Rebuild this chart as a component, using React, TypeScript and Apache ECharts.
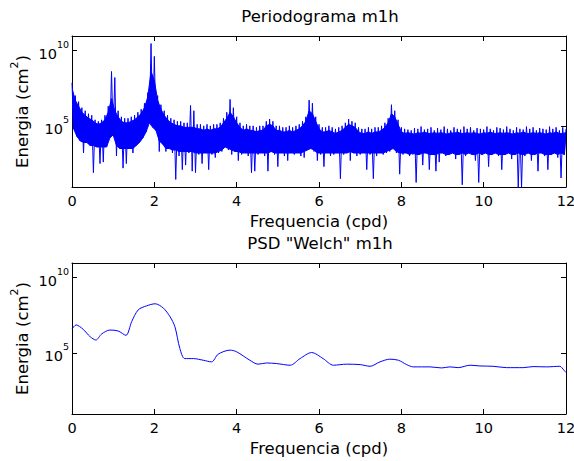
import React, { useEffect, useRef } from 'react';
import * as echarts from 'echarts';

// ---------- data (log10 of energy in cm^2) ----------
// Periodogram: upper extremes (spike tips) sampled every 0.08 cpd from 0 to 12
const periodogramUpperLog10 = [
  7.85, 7.0, 6.6, 6.2, 6.0, 5.8, 5.7, 5.4, 5.3, 5.4,
  5.7, 6.3, 8.6, 8.2, 6.0, 5.6, 5.5, 5.5, 5.6, 5.7,
  5.9, 6.1, 6.5, 7.2, 10.45, 9.6, 7.0, 6.4, 6.0, 5.7,
  5.5, 5.4, 5.3, 5.3, 5.2, 5.2, 6.35, 6.0, 5.1, 5.1,
  5.0, 5.1, 5.0, 5.1, 5.1, 5.2, 5.5, 5.9, 6.75, 6.2,
  5.6, 5.2, 5.0, 5.1, 5.0, 5.0, 4.9, 5.0, 5.0, 5.3,
  5.45, 5.3, 5.0, 5.0, 4.9, 4.9, 5.0, 4.9, 5.0, 5.1,
  5.3, 5.6, 6.7, 6.5, 5.6, 5.1, 4.9, 4.9, 5.0, 4.9,
  4.8, 4.9, 5.0, 5.2, 5.45, 5.3, 5.2, 4.9, 4.8, 4.8,
  4.9, 4.8, 4.9, 4.9, 5.0, 5.2, 5.5, 6.4, 6.0, 5.4,
  4.9, 4.8, 4.75, 4.7, 4.85, 4.8, 4.95, 4.75, 4.8, 4.9,
  4.7, 4.85, 4.75, 4.95, 4.8, 4.7, 4.9, 4.8, 4.75, 4.95,
  4.8, 4.9, 4.7, 4.85, 4.8, 4.75, 4.95, 4.8, 4.7, 4.9,
  4.85, 4.75, 4.95, 4.8, 4.7, 4.9, 4.8, 4.75, 4.95, 4.8,
  4.9, 4.7, 4.85, 4.8, 4.75, 4.95, 4.8, 4.9, 4.7, 4.9,
  4.8,
];
// Periodogram: top edge of the solid (dense) band, at the same frequencies as the upper extremes
const periodogramBandTopLog10 = [
  7.5, 6.7, 6.3, 5.9, 5.7, 5.5, 5.4, 5.2, 5.1, 5.2,
  5.4, 5.9, 6.8, 6.0, 5.6, 5.3, 5.2, 5.2, 5.3, 5.4,
  5.6, 5.8, 6.2, 6.9, 8.6, 8.0, 6.7, 6.1, 5.7, 5.4,
  5.2, 5.1, 5.0, 5.0, 4.9, 4.9, 4.9, 4.9, 4.8, 4.8,
  4.7, 4.8, 4.7, 4.8, 4.8, 4.9, 5.2, 5.5, 5.9, 5.6,
  5.2, 4.9, 4.7, 4.8, 4.7, 4.7, 4.6, 4.7, 4.7, 5.0,
  5.1, 5.0, 4.7, 4.7, 4.6, 4.6, 4.7, 4.6, 4.7, 4.8,
  5.0, 5.3, 6.0, 5.8, 5.3, 4.8, 4.6, 4.6, 4.7, 4.6,
  4.5, 4.6, 4.7, 4.9, 5.1, 5.0, 4.9, 4.6, 4.5, 4.5,
  4.6, 4.5, 4.6, 4.6, 4.7, 4.9, 5.2, 5.8, 5.6, 5.1,
  4.6, 4.5, 4.55, 4.5, 4.45, 4.55, 4.5, 4.6, 4.5, 4.5,
  4.55, 4.5, 4.55, 4.5, 4.45, 4.55, 4.5, 4.6, 4.5, 4.5,
  4.55, 4.5, 4.55, 4.5, 4.45, 4.55, 4.5, 4.6, 4.5, 4.5,
  4.55, 4.5, 4.55, 4.5, 4.45, 4.55, 4.5, 4.6, 4.5, 4.5,
  4.55, 4.5, 4.55, 4.5, 4.45, 4.55, 4.5, 4.6, 4.5, 4.5,
  4.55,
];
// Periodogram: lower extremes (including the thin downward spikes), every 0.08 cpd from 0.04
const periodogramLowerLog10 = [
  4.8, 4.3, 4.0, 3.2, 3.9, 3.7, 1.9, 3.6, 2.5, 2.6,
  3.6, 4.2, 4.4, 3.0, 3.5, 2.2, 2.5, 3.5, 3.2, 3.7,
  3.9, 4.2, 4.6, 5.2, 4.9, 4.7, 3.3, 3.8, 3.3, 3.5,
  3.2, 1.45, 3.0, 2.1, 2.4, 3.2, 2.0, 1.9, 3.1, 2.5,
  3.2, 2.1, 3.1, 2.9, 3.2, 3.3, 3.6, 3.4, 3.1, 3.3,
  2.7, 3.1, 3.2, 3.0, 1.9, 2.0, 3.1, 3.2, 3.0, 2.0,
  3.3, 3.1, 2.3, 3.2, 3.0, 2.7, 3.2, 3.1, 3.2, 3.0,
  2.9, 3.4, 3.5, 3.3, 2.7, 3.1, 2.3, 3.2, 3.0, 3.1,
  3.2, 1.5, 3.1, 3.2, 2.7, 3.2, 3.0, 3.1, 3.2, 2.1,
  3.1, 1.5, 3.0, 3.2, 3.1, 3.2, 3.3, 3.5, 3.2, 1.8,
  3.1, 3.2, 3.0, 3.1, 1.25, 3.1, 2.4, 3.2, 2.1, 3.1,
  2.0, 2.6, 3.2, 3.0, 3.1, 3.2, 2.8, 3.1, 1.1, 3.0,
  3.2, 3.1, 2.7, 1.25, 3.1, 3.2, 2.3, 3.1, 3.2, 3.0,
  2.1, 3.1, 3.2, 2.8, 3.1, 0.9, 0.9, 3.0, 3.2, 2.7,
  3.1, 2.0, 3.2, 3.0, 2.1, 3.1, 3.2, 2.9, 1.55, 3.1,
];
// Periodogram: bottom edge of the solid (dense) band, at the same frequencies as the lower extremes
const periodogramBandFloorLog10 = [
  4.8, 4.3, 4.0, 3.9, 3.9, 3.7, 3.7, 3.6, 3.6, 3.6,
  3.6, 4.2, 4.4, 3.7, 3.5, 3.5, 3.5, 3.5, 3.5, 3.7,
  3.9, 4.2, 4.6, 5.2, 4.9, 4.7, 4.0, 3.8, 3.5, 3.5,
  3.4, 3.4, 3.3, 3.3, 3.3, 3.3, 3.3, 3.2, 3.2, 3.2,
  3.2, 3.2, 3.2, 3.2, 3.3, 3.4, 3.6, 3.5, 3.4, 3.3,
  3.3, 3.2, 3.2, 3.2, 3.2, 3.2, 3.2, 3.2, 3.2, 3.2,
  3.3, 3.2, 3.2, 3.2, 3.2, 3.2, 3.2, 3.2, 3.2, 3.2,
  3.3, 3.4, 3.5, 3.4, 3.2, 3.2, 3.2, 3.2, 3.2, 3.2,
  3.2, 3.2, 3.2, 3.2, 3.3, 3.2, 3.2, 3.2, 3.2, 3.2,
  3.2, 3.2, 3.2, 3.2, 3.2, 3.3, 3.4, 3.5, 3.3, 3.2,
  3.2, 3.2, 3.1, 3.2, 3.1, 3.1, 3.2, 3.2, 3.1, 3.1,
  3.1, 3.2, 3.2, 3.1, 3.1, 3.2, 3.1, 3.1, 3.2, 3.1,
  3.2, 3.1, 3.1, 3.2, 3.1, 3.2, 3.1, 3.1, 3.2, 3.1,
  3.1, 3.1, 3.2, 3.1, 3.1, 3.2, 3.1, 3.1, 3.2, 3.1,
  3.1, 3.2, 3.2, 3.1, 3.1, 3.1, 3.2, 3.1, 3.2, 3.1,
];
const PERIODOGRAM_STEP = 0.08;

// Welch PSD
const welchFreq = [
  0, 0.1, 0.27, 0.44, 0.58, 0.72, 0.92, 1.12, 1.31, 1.45,
  1.61, 1.81, 2.02, 2.22, 2.38, 2.5, 2.62, 2.74, 2.95, 3.19,
  3.39, 3.55, 3.84, 4.0, 4.32, 4.52, 4.73, 4.97, 5.3, 5.54,
  5.82, 6.1, 6.35, 6.67, 7.0, 7.24, 7.48, 7.72, 7.93, 8.13,
  8.29, 8.7, 8.98, 9.18, 9.38, 9.67, 9.91, 10.23, 10.56, 10.96,
  11.2, 11.53, 11.85, 11.95, 12.0,
];
const welchLog10 = [
  6.58, 6.85, 6.56, 6.07, 5.85, 6.25, 6.51, 6.45, 6.16, 7.07,
  7.85, 8.11, 8.25, 7.96, 7.4, 6.73, 5.29, 4.62, 4.62, 4.51,
  4.4, 4.91, 5.18, 5.07, 4.51, 4.25, 4.33, 4.29, 4.18, 4.62,
  5.02, 4.62, 4.18, 4.25, 4.22, 4.11, 4.4, 4.58, 4.51, 4.22,
  4.07, 4.07, 4.0, 4.07, 4.02, 4.18, 4.13, 4.11, 4.02, 4.02,
  4.09, 4.07, 4.11, 3.85, 3.7,
];

const xTicks = { min: 0, max: 12, interval: 2 };
const yExponentTicks = [5, 10];
const yRange = { min: 0.95, max: 10.95 };

const titles = ['Periodograma m1h', 'PSD "Welch" m1h'];
const xName = 'Frequencia (cpd)';

// ---------- chart ----------
const FONT = '"DejaVu Sans", sans-serif';
const INK = '#000';
const BLUE = '#0000ff';

const upperFreq = periodogramUpperLog10.map((_, i) => i * PERIODOGRAM_STEP);
const lowerFreq = periodogramLowerLog10.map((_, i) => i * PERIODOGRAM_STEP + PERIODOGRAM_STEP / 2);

function buildPeriodogram() {
  const pts: [number, number][] = [];
  for (let i = 0; i < periodogramUpperLog10.length; i++) {
    pts.push([upperFreq[i], periodogramUpperLog10[i]]);
    if (i < periodogramLowerLog10.length) {
      pts.push([lowerFreq[i], periodogramLowerLog10[i]]);
    }
  }
  return pts;
}

function xAxis(gridIndex: number, position: 'bottom' | 'top', main: boolean) {
  return {
    type: 'value',
    gridIndex,
    position,
    min: xTicks.min,
    max: xTicks.max,
    interval: xTicks.interval,
    axisLine: { show: true, onZero: false, lineStyle: { color: INK, width: 1 } },
    axisTick: { show: true, inside: true, length: 5, lineStyle: { color: INK } },
    axisLabel: {
      show: main,
      margin: 6,
      color: INK,
      fontFamily: FONT,
      fontSize: 14.5,
    },
    splitLine: { show: false },
    name: main ? xName : '',
    nameLocation: 'middle',
    nameGap: 26,
    nameMoveOverlap: false,
    nameTextStyle: { color: INK, fontFamily: FONT, fontSize: 16.5 },
  };
}

function yAxis(gridIndex: number, position: 'left' | 'right', main: boolean) {
  return {
    type: 'value',
    gridIndex,
    position,
    min: yRange.min,
    max: yRange.max,
    axisLine: { show: true, onZero: false, lineStyle: { color: INK, width: 1 } },
    axisTick: {
      show: true,
      inside: true,
      length: 5,
      customValues: yExponentTicks,
      lineStyle: { color: INK },
    },
    axisLabel: {
      show: main,
      margin: 3,
      customValues: yExponentTicks,
      formatter: (v: number) => `{b|10}{s|${Math.round(v)}}`,
      rich: {
        b: { fontFamily: FONT, fontSize: 14.5, color: INK, lineHeight: 22, verticalAlign: 'bottom' },
        s: { fontFamily: FONT, fontSize: 9.5, color: INK, lineHeight: 22, verticalAlign: 'top' },
      },
    },
    splitLine: { show: false },
    name: main ? '{n|Energia (cm}{s|2}{n|)}' : '',
    nameLocation: 'middle',
    nameGap: 41,
    nameRotate: 90,
    nameMoveOverlap: false,
    nameTextStyle: {
      rich: {
        n: { fontFamily: FONT, fontSize: 16.5, color: INK, lineHeight: 22, verticalAlign: 'bottom' },
        s: { fontFamily: FONT, fontSize: 11, color: INK, lineHeight: 22, verticalAlign: 'top' },
      },
    },
  };
}

export default function App() {
  const ref = useRef<HTMLDivElement>(null);
  useEffect(() => {
    const chart = echarts.init(ref.current!, null, { renderer: 'svg' });
    chart.setOption({
      animation: false,
      backgroundColor: '#fff',
      title: [
        {
          text: titles[0],
          left: 320,
          top: 8,
          textAlign: 'center',
          padding: 0,
          textStyle: { fontFamily: FONT, fontSize: 16.5, fontWeight: 'normal', color: INK },
        },
        {
          text: titles[1],
          left: 320,
          top: 235,
          textAlign: 'center',
          padding: 0,
          textStyle: { fontFamily: FONT, fontSize: 16.5, fontWeight: 'normal', color: INK },
        },
      ],
      grid: [
        { left: 72, top: 36, width: 494, height: 151, outerBoundsMode: 'none', containLabel: false },
        { left: 72, top: 263, width: 494, height: 151, outerBoundsMode: 'none', containLabel: false },
      ],
      xAxis: [
        xAxis(0, 'bottom', true),
        xAxis(0, 'top', false),
        xAxis(1, 'bottom', true),
        xAxis(1, 'top', false),
      ],
      yAxis: [
        yAxis(0, 'left', true),
        yAxis(0, 'right', false),
        yAxis(1, 'left', true),
        yAxis(1, 'right', false),
      ],
      series: [
        {
          // solid dense band of the periodogram
          type: 'custom',
          xAxisIndex: 0,
          yAxisIndex: 0,
          clip: true,
          silent: true,
          data: [0],
          renderItem: (_params: any, api: any) => {
            const top = periodogramBandTopLog10.map((v, i) => api.coord([upperFreq[i], v]));
            const bottom = periodogramBandFloorLog10
              .map((v, i) => api.coord([lowerFreq[i], v]))
              .reverse();
            return {
              type: 'polygon',
              shape: { points: top.concat(bottom) },
              style: { fill: BLUE, stroke: BLUE, lineWidth: 1 },
            };
          },
        },
        {
          type: 'line',
          xAxisIndex: 0,
          yAxisIndex: 0,
          data: buildPeriodogram(),
          showSymbol: false,
          symbol: 'none',
          clip: true,
          lineStyle: { color: BLUE, width: 1 },
        },
        {
          type: 'line',
          xAxisIndex: 2,
          yAxisIndex: 2,
          data: welchFreq.map((f, i) => [f, welchLog10[i]]),
          showSymbol: false,
          symbol: 'none',
          smooth: 0.3,
          clip: true,
          lineStyle: { color: BLUE, width: 1 },
        },
      ],
    });
    return () => chart.dispose();
  }, []);
  return (
    <div
      ref={ref}
      style={{ position: 'fixed', left: 0, top: 0, width: 574, height: 461, background: '#fff' }}
    />
  );
}
